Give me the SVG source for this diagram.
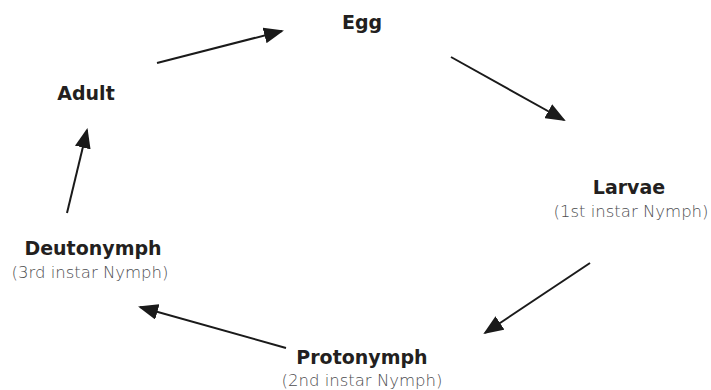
<svg xmlns="http://www.w3.org/2000/svg" width="711" height="390" viewBox="0 0 711 390">
<style>
.t{font-family:"DejaVu Sans","Open Sans",sans-serif;font-weight:bold;font-size:19px;fill:#231f20;text-anchor:middle}
.s{font-family:"DejaVu Sans","Open Sans",sans-serif;font-weight:200;font-size:16.5px;fill:#4d4d4f;text-anchor:middle}
.c{stroke:#1a1a1a;stroke-width:2;fill:none;marker-end:url(#ah)}
</style>
<defs>
<marker id="ah" markerWidth="10" markerHeight="8" refX="9" refY="4" orient="auto" markerUnits="strokeWidth">
<path d="M0,0 L10,4 L0,8 z" fill="#1a1a1a"/>
</marker>
</defs>
<rect width="711" height="390" fill="#fff"/>
<g id="connectors">
<line class="c" x1="157" y1="63" x2="282" y2="31"/>
<line class="c" x1="451" y1="57" x2="564" y2="120"/>
<line class="c" x1="590" y1="263" x2="485" y2="333"/>
<line class="c" x1="286" y1="348" x2="140" y2="307"/>
<line class="c" x1="67" y1="213" x2="87" y2="130"/>
</g>
<g id="egg"><text class="t" x="362" y="29">Egg</text></g>
<g id="larvae"><text class="t" x="629" y="194">Larvae</text><text class="s" x="631" y="217">(1st instar Nymph)</text></g>
<g id="protonymph"><text class="t" x="362" y="364">Protonymph</text><text class="s" x="362" y="386">(2nd instar Nymph)</text></g>
<g id="deutonymph"><text class="t" x="93" y="255">Deutonymph</text><text class="s" x="90" y="278">(3rd instar Nymph)</text></g>
<g id="adult"><text class="t" x="86" y="100">Adult</text></g>
</svg>
